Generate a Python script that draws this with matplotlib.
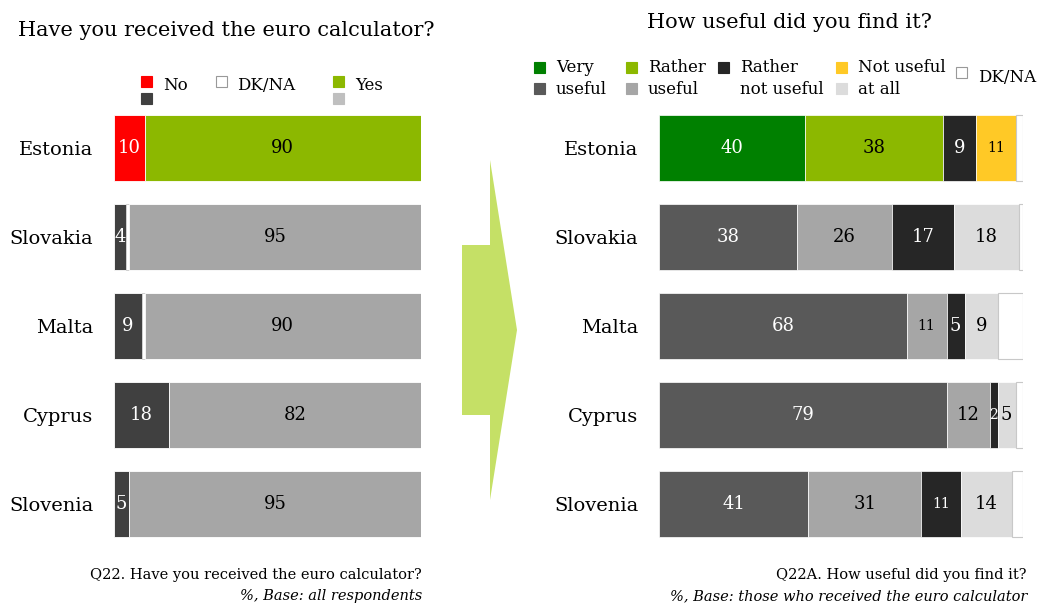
import matplotlib
matplotlib.use("Agg")
import matplotlib.pyplot as plt
from matplotlib.patches import Rectangle, Polygon

plt.rcParams["font.family"] = ["DejaVu Serif"]

# ---- data ----
countries = ["Estonia", "Slovakia", "Malta", "Cyprus", "Slovenia"]

# Q22: received the euro calculator
recv_no = [10, 4, 9, 18, 5]
recv_dk = [0, 1, 1, 0, 0]
recv_yes = [90, 95, 90, 82, 95]

# Q22A: how useful
use_very = [40, 38, 68, 79, 41]
use_rather = [38, 26, 11, 12, 31]
use_rather_not = [9, 17, 5, 2, 11]
use_not_at_all = [11, 18, 9, 5, 14]
use_dk = [2, 1, 7, 2, 3]

W, H = 1045, 604
fig = plt.figure(figsize=(W / 100, H / 100), dpi=100)


def px_axes(x0, x1, y0, y1):
    # axes from pixel box (y measured from top)
    return fig.add_axes([x0 / W, 1 - y1 / H, (x1 - x0) / W, (y1 - y0) / H])


def fx(x):
    return x / W


def fy(y):
    return 1 - y / H


RED = "#ff0000"
GREEN = "#8cb800"
DGREEN = "#008000"
YELLOW = "#ffc926"
DARK = "#404040"
GREY = "#a6a6a6"
MID = "#595959"
BLACK = "#262626"
LIGHT = "#dcdcdc"
EDGE = "#c8c8c8"

# Estonia keeps its colours, others are drawn in greys
left_cols = [(RED, "white", GREEN)] + [(DARK, "white", GREY)] * 4
right_cols = [(DGREEN, GREEN, BLACK, YELLOW, "white")] + \
             [(MID, GREY, BLACK, LIGHT, "white")] * 4
right_text = ["white", "black", "white", "black"]


def seg_label(ax, row, left, val, color, span_px, shrink=True):
    if val <= 0:
        return
    seg_px = val / 100 * span_px
    size = 13
    if shrink and len(str(val)) > 1 and seg_px < 42:
        size = 10
    if shrink and seg_px < 9:
        size = 10
    ax.text(left + val / 2, row, str(val), ha="center", va="center",
            color=color, fontsize=size, clip_on=False)


# ---- left panel ----
axL = px_axes(114, 421, 103.5, 548.5)
for i, c in enumerate(countries):
    cols = left_cols[i]
    vals = [recv_no[i], recv_dk[i], recv_yes[i]]
    left = 0
    for k, v in enumerate(vals):
        ec = EDGE if k == 1 else "white"
        axL.barh(i, v, left=left, height=0.74, color=cols[k],
                 edgecolor=ec, linewidth=0.6)
        left += v
    seg_label(axL, i, 0, recv_no[i], "white", 307, shrink=False)
    seg_label(axL, i, recv_no[i] + recv_dk[i], recv_yes[i], "black", 307)
axL.set_xlim(0, 100)
axL.set_ylim(4.5, -0.5)
axL.set_yticks(range(len(countries)))
axL.set_yticklabels(countries, fontsize=14)
axL.tick_params(axis="y", length=0, pad=15)
axL.set_xticks([])
for s in axL.spines.values():
    s.set_visible(False)

# ---- right panel ----
axR = px_axes(659, 1023, 103.5, 548.5)
for i, c in enumerate(countries):
    cols = right_cols[i]
    vals = [use_very[i], use_rather[i], use_rather_not[i],
            use_not_at_all[i], use_dk[i]]
    left = 0
    for k, v in enumerate(vals):
        ec = EDGE if k == 4 else "white"
        axR.barh(i, v, left=left, height=0.74, color=cols[k],
                 edgecolor=ec, linewidth=0.8 if k == 4 else 0.5)
        if k < 4:
            seg_label(axR, i, left, v, right_text[k], 364)
        left += v
axR.set_xlim(0, 100)
axR.set_ylim(4.5, -0.5)
axR.set_yticks(range(len(countries)))
axR.set_yticklabels(countries, fontsize=14)
axR.tick_params(axis="y", length=0, pad=15)
axR.set_xticks([])
for s in axR.spines.values():
    s.set_visible(False)

# ---- arrow between panels ----
arrow = [(462, 245), (490, 245), (490, 160), (517, 330), (490, 500),
         (490, 415), (462, 415)]
fig.patches.append(Polygon([(fx(x), fy(y)) for x, y in arrow], closed=True,
                           transform=fig.transFigure, facecolor="#c5e066",
                           edgecolor="none"))

# ---- titles ----
fig.text(fx(18), fy(30), "Have you received the euro calculator?",
         fontsize=15, ha="left", va="center")
fig.text(fx(647), fy(22), "How useful did you find it?",
         fontsize=15, ha="left", va="center")


def square(x, y, color, size=11, ec=None):
    fig.patches.append(Rectangle((fx(x), fy(y + size)), size / W, size / H,
                                 transform=fig.transFigure, facecolor=color,
                                 edgecolor=ec if ec else color, linewidth=0.8))


# left legend
square(141, 76, RED)
square(141, 93, DARK)
fig.text(fx(163), fy(85), "No", fontsize=12, va="center")
square(216, 76, "white", ec="#999999")
fig.text(fx(237), fy(85), "DK/NA", fontsize=12, va="center")
square(333, 76, GREEN)
square(333, 93, "#bfbfbf")
fig.text(fx(355), fy(85), "Yes", fontsize=12, va="center")

# right legend
legend_items = [
    (534, DGREEN, MID, "Very", "useful"),
    (626, GREEN, GREY, "Rather", "useful"),
    (718, BLACK, None, "Rather", "not useful"),
    (836, YELLOW, LIGHT, "Not useful", "at all"),
]
for x, c1, c2, l1, l2 in legend_items:
    square(x, 62, c1)
    if c2 is not None:
        square(x, 83, c2)
    fig.text(fx(x + 22), fy(67), l1, fontsize=12, va="center")
    fig.text(fx(x + 22), fy(90), l2, fontsize=12, va="center")
square(956, 67, "white", ec="#999999")
fig.text(fx(978), fy(77), "DK/NA", fontsize=12, va="center")

# ---- footnotes ----
fig.text(fx(422), fy(575), "Q22. Have you received the euro calculator?",
         fontsize=10.5, ha="right", va="center")
fig.text(fx(422), fy(596), "%, Base: all respondents",
         fontsize=10.5, ha="right", va="center", style="italic")
fig.text(fx(1027), fy(575), "Q22A. How useful did you find it?",
         fontsize=10.5, ha="right", va="center")
fig.text(fx(1027), fy(596), "%, Base: those who received the euro calculator",
         fontsize=10.5, ha="right", va="center", style="italic")

fig.savefig("out.png", dpi=100)
